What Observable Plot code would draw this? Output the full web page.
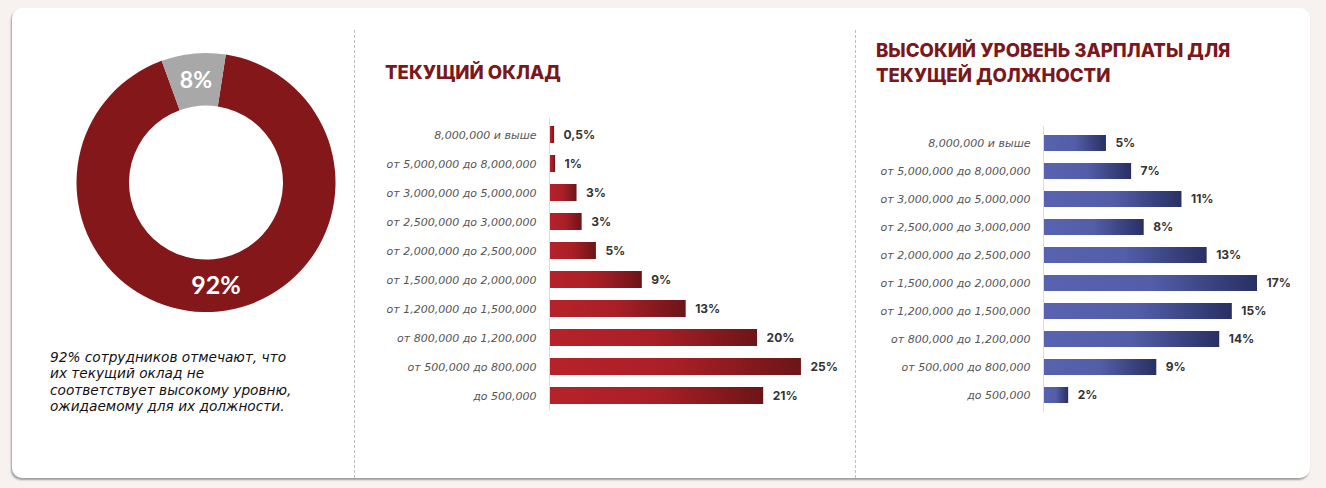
<!DOCTYPE html>
<html><head><meta charset="utf-8">
<script src="https://cdn.jsdelivr.net/npm/d3@7"></script>
<script src="https://cdn.jsdelivr.net/npm/@observablehq/plot@0.6"></script>
<style>
body{margin:0;width:1326px;height:488px;background:#f7f1f0;overflow:hidden;position:relative;font-family:Lato,sans-serif}
#card{position:absolute;left:12px;top:8px;width:1298px;height:470px;background:#fff;border-radius:10px;box-shadow:-1px 2px 2px rgba(0,0,0,0.35)}
.sep{position:absolute;top:22px;bottom:0;width:0;border-left:1px dashed #bdbdbd}
.abs{position:absolute}
.title{color:#7a181b;font-family:Inter,sans-serif;font-weight:800;font-size:18.6px;line-height:25px;letter-spacing:0px}
#caption{left:50px;top:349px;font-family:"DejaVu Sans",sans-serif;font-style:oblique;font-size:13.7px;line-height:16.3px;color:#111}
</style></head>
<body>
<div id="card">
  <div class="sep" style="left:342px"></div>
  <div class="sep" style="left:843px"></div>
</div>
<div id="donut" class="abs" style="left:36px;top:30px"></div>
<div id="caption" class="abs">92% сотрудников отмечают, что<br>их текущий оклад не<br>соответствует высокому уровню,<br>ожидаемому для их должности.</div>
<div class="abs title" style="left:385px;top:60px">ТЕКУЩИЙ ОКЛАД</div>
<div class="abs title" style="left:876px;top:38px">ВЫСОКИЙ УРОВЕНЬ ЗАРПЛАТЫ ДЛЯ<br>ТЕКУЩЕЙ ДОЛЖНОСТИ</div>
<div id="mid" class="abs" style="left:360px;top:105px"></div>
<div id="right" class="abs" style="left:850px;top:105px"></div>
<script>
// ---- data ----
const donutNames = ["Не соответствует", "Соответствует"];
const donutValues = [92, 8];
const donutLabels = ["92%", "8%"];
const donutColors = ["#841719", "#a8a8a8"];

const salaryRanges = [
  "8,000,000 и выше",
  "от 5,000,000 до 8,000,000",
  "от 3,000,000 до 5,000,000",
  "от 2,500,000 до 3,000,000",
  "от 2,000,000 до 2,500,000",
  "от 1,500,000 до 2,000,000",
  "от 1,200,000 до 1,500,000",
  "от 800,000 до 1,200,000",
  "от 500,000 до 800,000",
  "до 500,000"
];
const currentValues = [0.5, 0.6, 2.7, 3.2, 4.6, 9.1, 13.4, 20.4, 24.7, 21.0];
const currentLabels = ["0,5%", "1%", "3%", "3%", "5%", "9%", "13%", "20%", "25%", "21%"];
const highValues = [5, 7, 11, 8, 13, 17, 15, 14, 9, 2];
const highLabels = ["5%", "7%", "11%", "8%", "13%", "17%", "15%", "14%", "9%", "2%"];

const currentData = salaryRanges.map((r, i) => ({range: r, value: currentValues[i], label: currentLabels[i]}));
const highData = salaryRanges.map((r, i) => ({range: r, value: highValues[i], label: highLabels[i]}));

// ---- donut ----
const donutData = donutNames.map((n, i) => ({name: n, value: donutValues[i], label: donutLabels[i], color: donutColors[i]}));
const donut = Plot.plot({
  width: 340, height: 305, margin: 0,
  x: {axis: null}, y: {axis: null},
  marks: [
    (index, scales, values, dims) => {
      const g = d3.create("svg:g")
        .attr("transform", `translate(${dims.width / 2},${dims.height / 2})`);
      const start = 8.8 * Math.PI / 180;
      const pie = d3.pie().sort(null).value(d => d.value).startAngle(start).endAngle(start + 2 * Math.PI);
      const arc = d3.arc().innerRadius(77).outerRadius(129.5);
      const arcs = pie(donutData);
      g.selectAll("path").data(arcs).join("path")
        .attr("d", arc).attr("fill", d => d.data.color);
      g.selectAll("text").data(arcs).join("text")
        .attr("transform", d => `translate(${arc.centroid(d)})`)
        .attr("text-anchor", "middle").attr("dy", "0.36em")
        .attr("fill", "#fff").attr("font-family", "Lato, sans-serif").attr("font-weight", 700)
        .attr("font-size", (d, i) => i === 0 ? 25 : 23)
        .text(d => d.data.label);
      return g.node();
    }
  ]
});
document.getElementById("donut").append(donut);

// ---- bar charts ----
function gradientDefs(id, stops) {
  return () => {
    const defs = d3.create("svg:defs");
    const lg = defs.append("linearGradient").attr("id", id).attr("x1", "0").attr("x2", "1").attr("y1", "0").attr("y2", "0");
    stops.forEach(([o, c]) => lg.append("stop").attr("offset", o).attr("stop-color", c));
    return defs.node();
  };
}

function barChart(data, opts) {
  return Plot.plot({
    width: opts.width, height: 320,
    marginLeft: opts.marginLeft, marginTop: opts.marginTop, marginBottom: opts.marginBottom, marginRight: 0,
    x: {domain: opts.xDomain, range: opts.xRange, axis: null},
    y: {domain: salaryRanges, range: opts.yRange, padding: opts.padding, axis: null},
    style: {background: "transparent"},
    marks: [
      gradientDefs(opts.gradId, opts.stops),
      Plot.barX(data, {x: "value", y: "range", fill: `url(#${opts.gradId})`}),
      Plot.ruleX([0], {stroke: "#dcdcdc", strokeWidth: 1}),
      Plot.text(data, {x: 0, y: "range", text: "range", textAnchor: "end", dx: -13,
        fontFamily: "DejaVu Sans, sans-serif", fontStyle: "oblique", fontSize: 11, fill: "#555"}),
      Plot.text(data, {x: "value", y: "range", text: "label", textAnchor: "start", dx: 9,
        fontFamily: "Inter, sans-serif", fontWeight: 700, fontSize: 12, fill: "#333"})
    ]
  });
}

document.getElementById("mid").append(barChart(currentData, {
  width: 480, marginLeft: 189, marginTop: 13, marginBottom: 15,
  xDomain: [0, 25], xRange: [189, 189 + 255],
  yRange: [8.3, 311.6], padding: 0.42, gradId: "redGrad",
  stops: [["0%", "#b7222a"], ["50%", "#a91f26"], ["100%", "#6c1518"]]
}));

document.getElementById("right").append(barChart(highData, {
  width: 470, marginLeft: 193, marginTop: 21, marginBottom: 13,
  xDomain: [0, 17], xRange: [193, 193 + 214],
  yRange: [14.4, 313.7], padding: 0.44, gradId: "blueGrad",
  stops: [["0%", "#5862b0"], ["50%", "#535ea9"], ["100%", "#283063"]]
}));
</script>
</body></html>
